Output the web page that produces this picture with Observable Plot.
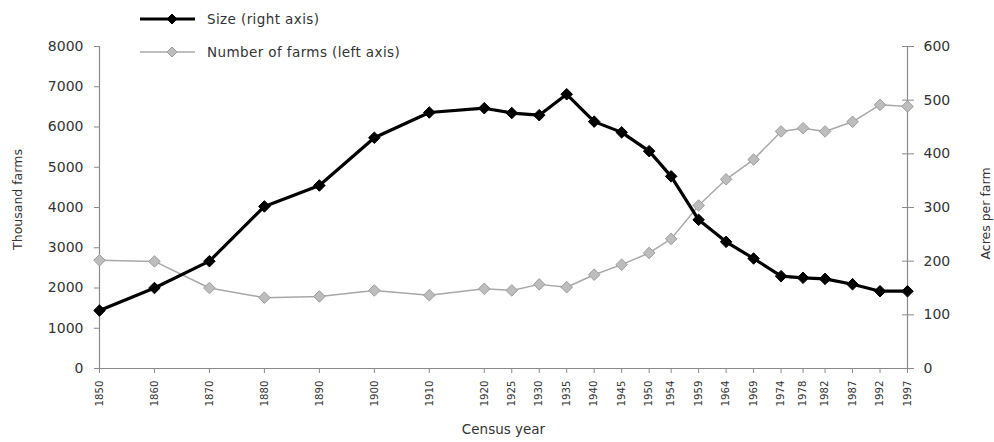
<!DOCTYPE html>
<html>
<head>
<meta charset="utf-8">
<script src="https://cdn.jsdelivr.net/npm/d3@7"></script>
<script src="https://cdn.jsdelivr.net/npm/@observablehq/plot@0.6"></script>
<style>
  body { margin: 0; background: #fff; }
  #wrap { position: relative; width: 994px; height: 442px; font-family: "DejaVu Sans", sans-serif; color: #333; }
  #legend { position: absolute; left: 140px; top: 0; }
  .item { position: absolute; left: 0; display: flex; align-items: center; white-space: nowrap; font-size: 13.5px; letter-spacing: 0.4px; }
  .item svg { margin-right: 11px; }
</style>
</head>
<body>
<div id="wrap">
  <div id="chart"></div>
  <div id="legend"></div>
</div>
<script>
// Census years (x axis ticks)
const years = [1850, 1860, 1870, 1880, 1890, 1900, 1910, 1920, 1925, 1930, 1935, 1940, 1945, 1950, 1954, 1959, 1964, 1969, 1974, 1978, 1982, 1987, 1992, 1997];
// Size (acres per farm) — right axis
const sizeAcres = [108, 150, 200, 302, 341, 430, 477, 485, 476, 472, 511, 460, 440, 405, 358, 277, 236, 205, 172, 169, 167, 157, 144, 144];
// Number of farms (thousand) — left axis
const farmsThousand = [2690, 2660, 2000, 1760, 1790, 1940, 1820, 1980, 1940, 2090, 2020, 2330, 2580, 2870, 3220, 4050, 4700, 5190, 5890, 5970, 5890, 6130, 6550, 6510];
// Axis tick labels
const leftTicks = [0, 1000, 2000, 3000, 4000, 5000, 6000, 7000, 8000];
const rightTicks = [0, 100, 200, 300, 400, 500, 600];
const seriesNames = ["Size (right axis)", "Number of farms (left axis)"];
const axisTitles = { left: "Thousand farms", right: "Acres per farm", bottom: "Census year" };

const k = leftTicks[leftTicks.length - 1] / rightTicks[rightTicks.length - 1];
const sizeRows = years.map((year, i) => ({ year, value: sizeAcres[i] * k }));
const farmRows = years.map((year, i) => ({ year, value: farmsThousand[i] }));

const axisGray = "#8a8a8a";
const font = '"DejaVu Sans", sans-serif';

const chart = Plot.plot({
  width: 994,
  height: 442,
  marginLeft: 99,
  marginRight: 87,
  marginTop: 46,
  marginBottom: 74,
  style: { fontFamily: font, color: "#333", background: "#fff", overflow: "visible" },
  x: { domain: [years[0], years[years.length - 1]] },
  y: { domain: [0, leftTicks[leftTicks.length - 1]] },
  marks: [
    Plot.axisY(leftTicks, { anchor: "left", tickSize: 5, tickPadding: 11, fontSize: 14, stroke: axisGray, label: null, tickFormat: d => String(d) }),
    Plot.axisY(rightTicks.map(v => v * k), { anchor: "right", tickSize: 6, tickPadding: 10, fontSize: 14, stroke: axisGray, label: null, tickFormat: d => String(Math.round(d / k)) }),
    Plot.axisY(rightTicks.map(v => v * k), { anchor: "right", tickSize: 6, dx: -6, stroke: axisGray, label: null, tickFormat: () => "" }),
    Plot.axisX(years, { anchor: "bottom", tickSize: 5, tickPadding: 7, tickRotate: -90, fontSize: 10.2, stroke: axisGray, label: null, tickFormat: d => String(d) }),
    Plot.ruleY([0], { stroke: axisGray, strokeWidth: 1.2 }),
    Plot.ruleX([years[0], years[years.length - 1]], { stroke: axisGray, strokeWidth: 1.2 }),
    Plot.line(farmRows, { x: "year", y: "value", stroke: "#a8a8a8", strokeWidth: 1.5 }),
    Plot.dot(farmRows, { x: "year", y: "value", symbol: "diamond2", r: 5.2, fill: "#bdbdbd", stroke: "#9c9c9c", strokeWidth: 1 }),
    Plot.line(sizeRows, { x: "year", y: "value", stroke: "#000", strokeWidth: 3.2 }),
    Plot.dot(sizeRows, { x: "year", y: "value", symbol: "diamond2", r: 5.2, fill: "#000", stroke: "#000", strokeWidth: 1 }),
    Plot.text([axisTitles.left], { frameAnchor: "left", textAnchor: "middle", dx: -82, dy: -8, rotate: -90, fontSize: 12.5, fill: "#333" }),
    Plot.text([axisTitles.right], { frameAnchor: "right", textAnchor: "middle", dx: 78, dy: 6, rotate: -90, fontSize: 12.5, fill: "#333" }),
    Plot.text([axisTitles.bottom], { frameAnchor: "bottom", textAnchor: "middle", dy: 65, fontSize: 13.5, fill: "#333" })
  ]
});
document.getElementById("chart").appendChild(chart);

// Legend
const legend = document.getElementById("legend");
const legendStyles = [
  { top: 10, stroke: "#000", width: 3, fill: "#000", dstroke: "#000" },
  { top: 43, stroke: "#a8a8a8", width: 1.5, fill: "#bdbdbd", dstroke: "#9c9c9c" }
];
seriesNames.forEach((name, i) => {
  const s = legendStyles[i];
  const div = document.createElement("div");
  div.className = "item";
  div.style.top = s.top + "px";
  div.innerHTML = `<svg width="56" height="18"><line x1="0" x2="55" y1="9" y2="9" stroke="${s.stroke}" stroke-width="${s.width}"/><polygon points="32,4 37,9 32,14 27,9" fill="${s.fill}" stroke="${s.dstroke}"/></svg><span>${name}</span>`;
  legend.appendChild(div);
});
</script>
</body>
</html>
